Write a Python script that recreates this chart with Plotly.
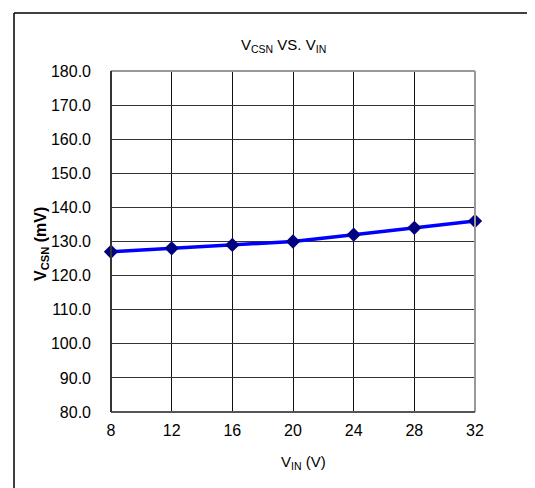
import plotly.graph_objects as go

vin = [8, 12, 16, 20, 24, 28, 32]
vcsn = [127, 128, 129, 130, 132, 134, 136]
x_ticks = [8, 12, 16, 20, 24, 28, 32]
y_ticks = [80, 90, 100, 110, 120, 130, 140, 150, 160, 170, 180]

# page body has an 8px margin; keep the figure inside the 535x488 window
W, H = 527, 480
L, R, T, B = 103, 60, 63, 76
pw, ph = W - L - R, H - T - B

def px(x):
    return (x - L) / pw

def py(y):
    return (H - B - y) / ph

fig = go.Figure()
fig.add_trace(go.Scatter(
    x=vin, y=vcsn, mode="lines+markers",
    line=dict(color="#0000FF", width=3.5),
    marker=dict(symbol="diamond", size=11, color="#000080"),
    cliponaxis=False, showlegend=False,
))

font = "Liberation Sans, Arial, sans-serif"
fig.update_layout(
    width=W, height=H,
    margin=dict(l=L, r=R, t=T, b=B),
    paper_bgcolor="white", plot_bgcolor="white",
    font=dict(family=font, size=16, color="#000"),
    xaxis=dict(range=[8, 32], tickvals=x_ticks, ticktext=[str(v) for v in x_ticks],
               showgrid=True, gridcolor="#111", gridwidth=1, zeroline=False,
               showline=False, ticks="", ticklabelstandoff=7,
               tickfont=dict(family=font, size=16)),
    yaxis=dict(range=[80, 180], tickvals=y_ticks, ticktext=[f"{v:.1f}" for v in y_ticks],
               showgrid=True, gridcolor="#333", gridwidth=1, zeroline=False,
               showline=False, ticks="", ticklabelstandoff=19,
               tickfont=dict(family=font, size=16)),
    annotations=[
        dict(text="V<sub>CSN</sub> VS. V<sub>IN</sub>", xref="paper", yref="paper",
             x=px(275), y=py(37), xanchor="center", yanchor="middle", showarrow=False,
             font=dict(family=font, size=15)),
        dict(text="V<sub>IN</sub> (V)", xref="paper", yref="paper",
             x=px(295), y=py(454), xanchor="center", yanchor="middle", showarrow=False,
             font=dict(family=font, size=15)),
        dict(text="<b>V<sub>CSN</sub> (mV)</b>", xref="paper", yref="paper",
             x=px(33), y=py(236), xanchor="center", yanchor="middle", showarrow=False,
             textangle=-90, font=dict(family=font, size=16)),
    ],
)

shapes = [
    # plot borders
    dict(type="line", xref="paper", yref="paper", x0=0, x1=1, y0=1, y1=1, line=dict(color="#999", width=2)),
    dict(type="line", xref="paper", yref="paper", x0=1, x1=1, y0=0, y1=1, line=dict(color="#999", width=2)),
    dict(type="line", xref="paper", yref="paper", x0=0, x1=1, y0=0, y1=0, line=dict(color="#555", width=2)),
    dict(type="line", xref="paper", yref="paper", x0=0, x1=0, y0=0, y1=1, line=dict(color="#333", width=2)),
    # outer frame (top and left)
    dict(type="line", xref="paper", yref="paper", x0=px(6), x1=px(W), y0=py(5), y1=py(5), line=dict(color="#000", width=1.5)),
    dict(type="line", xref="paper", yref="paper", x0=px(6), x1=px(6), y0=py(5), y1=py(H), line=dict(color="#000", width=1.5)),
]
fig.update_layout(shapes=shapes)

fig.write_html("out.html", config={"displayModeBar": False})
